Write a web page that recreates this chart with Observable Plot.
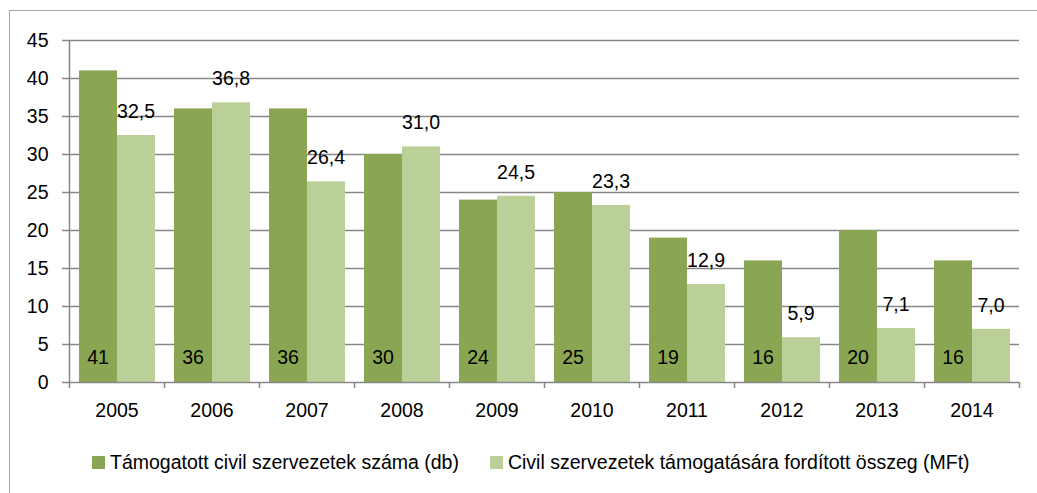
<!DOCTYPE html>
<html>
<head>
<meta charset="utf-8">
<script src="https://cdn.jsdelivr.net/npm/d3@7"></script>
<script src="https://cdn.jsdelivr.net/npm/@observablehq/plot@0.6"></script>
<style>
  html, body { margin: 0; padding: 0; background: #fff; }
  body { width: 1037px; height: 493px; position: relative; overflow: hidden; font-family: "Liberation Sans", Arial, sans-serif; }
  #frame { position: absolute; left: 9px; top: 10px; width: 1200px; height: 700px; border-top: 1.5px solid #a6a6a6; border-left: 1.5px solid #a6a6a6; }
  #chart { position: absolute; left: 0; top: 0; }
  #legend { position: absolute; left: 92px; top: 451px; display: flex; align-items: center; font-size: 19.5px; color: #000; white-space: nowrap; }
  .item { display: flex; align-items: center; }
  .sw { width: 13px; height: 13px; display: inline-block; margin-right: 5px; }
</style>
</head>
<body>
<div id="frame"></div>
<div id="chart"></div>
<div id="legend"></div>
<script>
const years = [2005, 2006, 2007, 2008, 2009, 2010, 2011, 2012, 2013, 2014];
const counts = [41, 36, 36, 30, 24, 25, 19, 16, 20, 16];
const amounts = [32.5, 36.8, 26.4, 31.0, 24.5, 23.3, 12.9, 5.9, 7.1, 7.0];
const seriesNames = ["Támogatott civil szervezetek száma (db)", "Civil szervezetek támogatására fordított összeg (MFt)"];
const yTicks = [0, 5, 10, 15, 20, 25, 30, 35, 40, 45];
const boundaries = [2004.5, 2005.5, 2006.5, 2007.5, 2008.5, 2009.5, 2010.5, 2011.5, 2012.5, 2013.5, 2014.5];

const darkColor = "#8ba653";
const lightColor = "#bbcf98";
const gridColor = "#878787";

const data = years.map((y, i) => ({year: y, count: counts[i], amount: amounts[i]}));
const fmt = v => v.toFixed(1).replace(".", ",");

const chart = Plot.plot({
  width: 1037,
  height: 425,
  marginLeft: 69,
  marginRight: 18,
  marginTop: 40,
  marginBottom: 43,
  style: {fontFamily: '"Liberation Sans", Arial, sans-serif', fontSize: "19.5px", color: "#000", background: "transparent"},
  x: {type: "linear", domain: [2004.5, 2014.5], axis: null, label: null},
  y: {domain: [0, 45], axis: null, label: null},
  marks: [
    Plot.ruleY(yTicks.filter(d => d > 0), {stroke: gridColor, strokeWidth: 1.5}),
    Plot.rectY(data, {x1: d => d.year - 0.5, x2: d => d.year + 0.5, y1: 0, y2: "count", fill: darkColor, insetLeft: 10, insetRight: 47}),
    Plot.rectY(data, {x1: d => d.year - 0.5, x2: d => d.year + 0.5, y1: 0, y2: "amount", fill: lightColor, insetLeft: 48, insetRight: 9}),
    Plot.ruleX([2004.5], {stroke: gridColor, strokeWidth: 1.5}),
    Plot.ruleY([0], {stroke: gridColor, strokeWidth: 1.5}),
    Plot.axisY({ticks: yTicks, tickSize: 7, tickPadding: 14, stroke: gridColor, strokeWidth: 1.5, fontSize: "19.5px", fill: "#000", label: null, tickFormat: d => String(d)}),
    Plot.axisX({ticks: boundaries, tickSize: 6, stroke: gridColor, strokeWidth: 1.5, label: null, tickFormat: () => ""}),
    Plot.axisX({ticks: years, tickSize: 0, tickPadding: 21, fontSize: "19.5px", fill: "#000", label: null, tickFormat: d => String(d)}),
    Plot.text(data, {x: "year", y: 0, dx: -19, dy: -25, text: d => String(d.count), fill: "#000", fontSize: 19.5, textAnchor: "middle", lineAnchor: "middle"}),
    Plot.text(data, {x: "year", y: "amount", dx: 19, dy: -24, text: d => fmt(d.amount), fill: "#000", fontSize: 19.5, textAnchor: "middle", lineAnchor: "middle"})
  ]
});
document.getElementById("chart").appendChild(chart);

const legend = document.getElementById("legend");
[darkColor, lightColor].forEach((c, i) => {
  const item = document.createElement("div");
  item.className = "item";
  if (i > 0) item.style.marginLeft = "31px";
  const sw = document.createElement("span");
  sw.className = "sw";
  sw.style.background = c;
  item.appendChild(sw);
  const t = document.createElement("span");
  t.textContent = seriesNames[i];
  item.appendChild(t);
  legend.appendChild(item);
});
</script>
</body>
</html>
